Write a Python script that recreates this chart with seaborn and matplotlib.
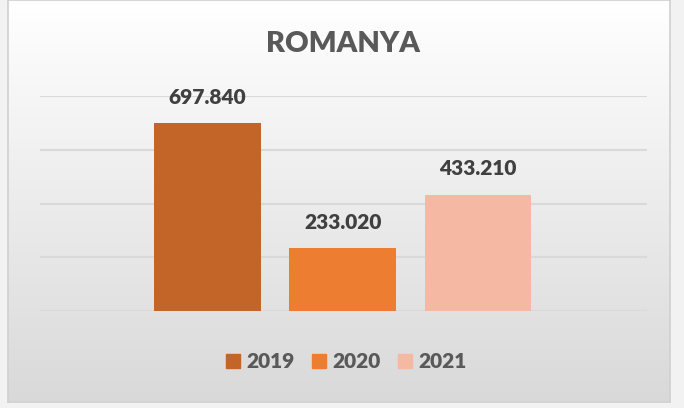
import numpy as np
import pandas as pd
import seaborn as sns
import matplotlib.pyplot as plt
from matplotlib.lines import Line2D

years = ['2019', '2020', '2021']
values = [697840, 233020, 433210]
colors = ['#C36428', '#ED7D31', '#F4B8A3']
title = 'ROMANYA'

sns.set_theme(style='white')
plt.rcParams['font.family'] = ['Lato', 'DejaVu Sans']

df = pd.DataFrame({'year': years, 'value': values})

fig = plt.figure(figsize=(6.84, 4.08), dpi=100)
fig.patch.set_facecolor('#F2F2F2')

# arka plan: beyazdan griye gecis
bg = fig.add_axes([8 / 684, 6 / 408, 662 / 684, 402 / 408])
grad = np.linspace(1.0, 0.0, 256).reshape(-1, 1)
bg.imshow(grad, aspect='auto', cmap=sns.blend_palette(['#D9D9D9', '#FFFFFF'], as_cmap=True),
          extent=[0, 1, 0, 1], vmin=0, vmax=1)
bg.set_xticks([])
bg.set_yticks([])
for s in bg.spines.values():
    s.set_color('#D0D0D0')
    s.set_linewidth(1.2)

ax = fig.add_axes([40 / 684, 97 / 408, 607 / 684, 215 / 408])
ax.patch.set_alpha(0)
sns.barplot(data=df, x='year', y='value', hue='year', palette=colors,
            width=0.79, dodge=False, legend=False, ax=ax, saturation=1, linewidth=0)
ax.set_xlim(-1.24, 3.25)
ax.set_ylim(0, 800000)
ax.set_yticks([0, 200000, 400000, 600000, 800000])
ax.yaxis.grid(True, color='#D9D9D9', linewidth=1.5)
ax.set_axisbelow(True)
ax.set_xticks([])
ax.set_yticklabels([])
ax.tick_params(left=False, bottom=False)
ax.set_xlabel('')
ax.set_ylabel('')
for s in ax.spines.values():
    s.set_visible(False)

for i, v in enumerate(values):
    lbl = f'{v:,}'.replace(',', '.')
    ax.annotate(lbl, (i, v), xytext=(0, 12), textcoords='offset points',
                ha='center', va='bottom', fontsize=15, fontweight='heavy', color='#404040')

fig.text(343 / 684, 1 - 44 / 408, title, ha='center', va='center',
         fontsize=21, fontweight='heavy', color='#595959')

handles = [Line2D([], [], marker='s', linestyle='none', markersize=10,
                  markerfacecolor=c, markeredgecolor=c) for c in colors]
leg = fig.legend(handles, years, loc='center', bbox_to_anchor=(346 / 684, 1 - 362 / 408),
                 ncol=3, frameon=False, handlelength=0.7, handletextpad=0.3,
                 columnspacing=0.8, prop={'size': 15, 'weight': 'heavy'})
for t in leg.get_texts():
    t.set_color('#595959')

fig.savefig('out.png', dpi=100)
